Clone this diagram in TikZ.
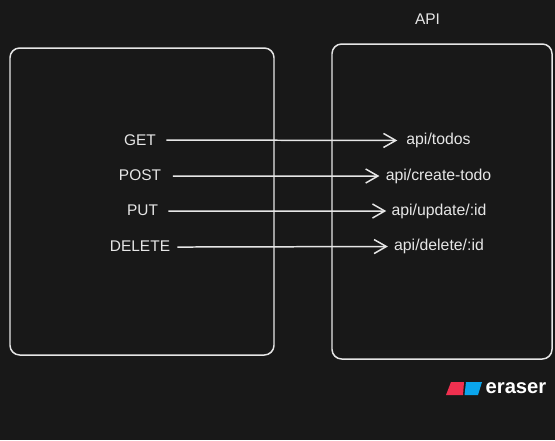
\documentclass[tikz,border=0pt]{standalone}
\usepackage{fontspec}
\setmainfont{Liberation Sans}
\usetikzlibrary{arrows.meta}
\definecolor{bgdark}{HTML}{181818}
\definecolor{inkwhite}{HTML}{E6E6E6}
\definecolor{logored}{HTML}{F0304F}
\definecolor{logoblue}{HTML}{0AA5EC}

\begin{document}
\begin{tikzpicture}[x=.02cm, y=-.02cm]
\tikzset{box/.style = {draw=inkwhite, line width=.85pt, rounded corners=5.5pt, inner sep=0pt}}
\tikzset{label/.style = {text=inkwhite, font=\fontsize{8.8}{10}\selectfont, inner sep=0pt}}
\tikzset{route/.style = {text=inkwhite, font=\fontsize{9}{10}\selectfont, inner sep=0pt}}
\tikzset{edge/.style = {-{Straight Barb[length=7pt, width=8pt]}, draw=inkwhite, line width=.85pt}}

\fill[bgdark] (0, 0) rectangle (555, 440);
\useasboundingbox (0, 0) rectangle (555, 440);

\node[box, minimum width=264*.02cm, minimum height=307*.02cm] (client) at (142, 201.5) {};
\node[box, minimum width=220*.02cm, minimum height=315*.02cm] (server) at (442, 201.5) {};

\node[label] (apititle) at (427.5, 19) {API};

\node[label] (get) at (140, 140) {GET};
\node[label] (post) at (140, 175) {POST};
\node[label] (put) at (142.5, 210) {PUT};
\node[label] (delete) at (140, 246) {DELETE};

\node[route] (todos) at (438.5, 140.5) {api/todos};
\node[route] (create) at (438.5, 176) {api/create-todo};
\node[route] (update) at (439, 211) {api/update/:id};
\node[route] (remove) at (439, 246.5) {api/delete/:id};

\draw[edge, shorten <=5.7pt, shorten >=5pt] (get.east) -- (todos.west);
\draw[edge, shorten <=6.5pt, shorten >=3.4pt] ([yshift=-.6pt]post.east) -- (create.west);
\draw[edge, shorten <=5.7pt, shorten >=2.8pt] ([yshift=-.6pt]put.east) -- (update.west);
\draw[edge, shorten <=4pt, shorten >=3.4pt] ([yshift=-.6pt]delete.east) -- (remove.west);

\fill[logored] (446, 395) -- (451, 382) -- (464, 382) -- (463, 395) -- cycle;
\fill[logoblue] (466, 382) -- (482, 382) -- (478, 395) -- (464.5, 395) -- cycle;
\node[text=white, inner sep=0pt, font=\fontsize{11.5}{12}\bfseries\selectfont] (brand) at (516, 388.5) {eraser};

\end{tikzpicture}
\end{document}
